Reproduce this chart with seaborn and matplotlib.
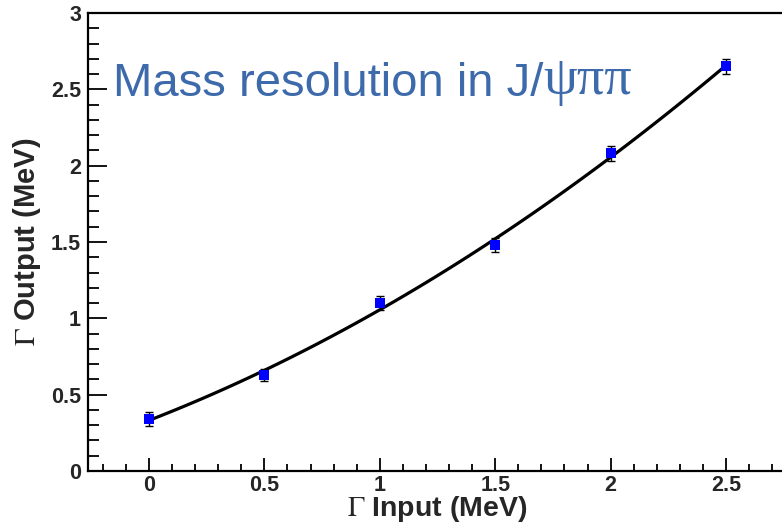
import numpy as np
import pandas as pd
import matplotlib
matplotlib.use("Agg")
import matplotlib.pyplot as plt
import seaborn as sns
from matplotlib.ticker import MultipleLocator, FixedFormatter, FixedLocator

# ---- data ----
gamma_input = [0.0, 0.5, 1.0, 1.5, 2.0, 2.5]
gamma_output = [0.34, 0.63, 1.10, 1.48, 2.08, 2.65]
output_err = [0.045, 0.04, 0.045, 0.045, 0.05, 0.05]
x_ticks = [0, 0.5, 1, 1.5, 2, 2.5]
x_tick_labels = ["0", "0.5", "1", "1.5", "2", "2.5"]
y_ticks = [0, 0.5, 1, 1.5, 2, 2.5, 3]
y_tick_labels = ["0", "0.5", "1", "1.5", "2", "2.5", "3"]
title_main = "Mass resolution in J/"
title_greek = "ψππ"

df = pd.DataFrame({"inp": gamma_input, "out": gamma_output, "err": output_err})

sns.set_theme(style="white")
plt.rcParams["font.family"] = ["Liberation Sans", "DejaVu Sans"]
plt.rcParams["mathtext.fontset"] = "stix"

fig = plt.figure(figsize=(7.82, 5.26), dpi=100)
ax = fig.add_axes([88 / 782, 55 / 526, (787 - 88) / 782, (471 - 13) / 526])

# quadratic fit curve via seaborn
sns.regplot(data=df, x="inp", y="out", order=2, ci=None, scatter=False,
            line_kws=dict(color="black", lw=2.3, zorder=2), ax=ax)

# error bars and markers
ax.errorbar(df["inp"], df["out"], yerr=df["err"], fmt="none", ecolor="black",
            elinewidth=1.0, capsize=3, capthick=1.0, zorder=3)
sns.scatterplot(data=df, x="inp", y="out", marker="s", s=55, color="#0000ff",
                edgecolor="#0000ff", linewidth=0, ax=ax, zorder=4)

ax.set_xlim(-0.264, 2.764)
ax.set_ylim(0, 3)

ax.xaxis.set_major_locator(FixedLocator(x_ticks))
ax.xaxis.set_major_formatter(FixedFormatter(x_tick_labels))
ax.yaxis.set_major_locator(FixedLocator(y_ticks))
ax.yaxis.set_major_formatter(FixedFormatter(y_tick_labels))
ax.xaxis.set_minor_locator(MultipleLocator(0.1))
ax.yaxis.set_minor_locator(MultipleLocator(0.1))

ax.tick_params(axis="both", which="both", direction="in", color="black",
               top=False, right=False, bottom=True, left=True)
ax.tick_params(axis="y", which="major", length=14, width=1.3, pad=5,
               labelsize=15.5)
ax.tick_params(axis="y", which="minor", length=8, width=1.3)
ax.tick_params(axis="x", which="major", length=9.5, width=1.3, pad=3,
               labelsize=15.5)
ax.tick_params(axis="x", which="minor", length=5, width=1.3)
for lab in ax.get_xticklabels() + ax.get_yticklabels():
    lab.set_fontweight("bold")

for sp in ax.spines.values():
    sp.set_color("black")
    sp.set_linewidth(1.6)

ax.set_xlabel(r"$\Gamma$ Input (MeV)", fontsize=20.5, fontweight="bold",
              labelpad=-1.5)
ax.set_ylabel(r"$\Gamma$ Output (MeV)", fontsize=21, fontweight="bold",
              labelpad=6)

# title inside plot
t1 = fig.text(113 / 782, 1 - 96 / 526, title_main, fontsize=34,
              color="#3d6aab", family=["Liberation Sans", "DejaVu Sans"])
ax.annotate(title_greek, xy=(1, 0), xycoords=t1, xytext=(0, 0),
            textcoords="offset points", fontsize=39, color="#3d6aab",
            family=["Liberation Serif", "DejaVu Serif"], va="bottom",
            ha="left")

fig.savefig("out.png", dpi=100)
